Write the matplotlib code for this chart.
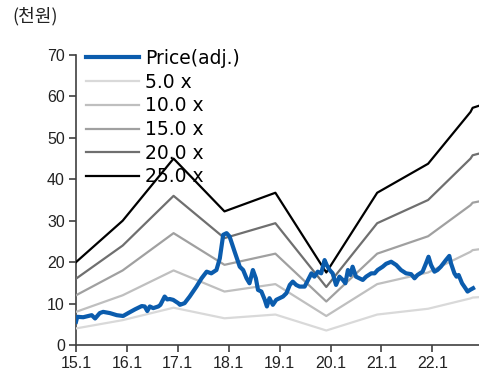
import matplotlib
matplotlib.use("Agg")
import matplotlib.pyplot as plt
import numpy as np

# ---- data ----
x_tick_labels = ["15.1", "16.1", "17.1", "18.1", "19.1", "20.1", "21.1", "22.1"]
x_tick_months = [0, 12, 24, 36, 48, 60, 72, 84]

per_multiples = [5.0, 10.0, 15.0, 20.0, 25.0]
per_labels = ["5.0 x", "10.0 x", "15.0 x", "20.0 x", "25.0 x"]
eps_month = [0, 11, 23, 35, 47, 59, 71, 83, 93, 93.5, 95]
eps_value = [0.80, 1.20, 1.80, 1.29, 1.47, 0.70, 1.47, 1.75, 2.25, 2.29, 2.31]

price_month = [0.0, 0.3, 1.7, 2.9, 3.7, 4.5, 5.6, 6.4, 8.0, 9.6, 11.1, 12.3, 13.9, 15.5,
               16.2, 16.8, 17.4, 18.2, 19.4, 19.9, 20.9, 21.5, 22.1, 22.9, 24.1, 24.5,
               25.6, 26.8, 28.4, 29.6, 30.8, 31.9, 33.1, 33.9, 34.7, 35.5, 36.2, 37.4,
               38.6, 39.4, 40.2, 40.9, 41.7, 42.4, 42.9, 43.7, 44.5, 45.0, 45.6, 46.4,
               47.2, 48.8, 49.6, 50.4, 51.1, 51.9, 52.7, 53.9, 54.7, 55.5, 56.2, 57.0,
               57.8, 58.6, 59.1, 59.8, 60.5, 61.3, 62.1, 62.9, 63.5, 64.1, 64.7, 65.2,
               66.0, 66.8, 67.6, 68.4, 69.6, 70.4, 71.1, 72.3, 73.1, 74.3, 75.5, 76.6,
               77.8, 79.0, 79.8, 80.5, 81.7, 82.5, 83.1, 83.7, 84.5, 85.2, 86.0, 87.2,
               88.0, 88.4, 89.2, 89.7, 90.2, 91.0, 91.8, 92.3, 92.9, 93.6]
price_value = [5.6, 6.8, 6.7, 7.0, 7.2, 6.4, 7.7, 8.0, 7.7, 7.2, 7.0, 7.7, 8.6, 9.4,
               9.3, 8.2, 9.3, 8.9, 9.3, 9.7, 11.7, 11.0, 11.1, 10.9, 10.1, 9.7,
               10.1, 11.7, 14.1, 16.1, 17.7, 17.3, 18.1, 20.9, 26.6, 27.0, 26.2, 22.5,
               18.9, 18.1, 16.1, 14.9, 18.1, 16.1, 13.3, 12.9, 10.9, 9.3, 11.3, 9.7,
               10.9, 11.7, 12.5, 14.5, 15.3, 14.5, 14.1, 14.1, 15.7, 17.3, 16.5, 17.7,
               17.3, 20.5, 19.3, 18.1, 17.3, 14.5, 16.5, 15.7, 14.9, 18.1, 16.9, 18.9,
               16.5, 16.1, 15.7, 16.5, 17.3, 17.3, 18.1, 18.9, 19.6, 20.1, 19.3, 18.1,
               17.3, 17.1, 16.1, 16.9, 17.7, 19.7, 21.3, 19.3, 17.7, 18.1, 18.9, 20.5,
               21.5, 19.7, 17.3, 16.5, 16.9, 14.9, 13.7, 12.9, 13.3, 13.7]

# ---- style ----
per_colors = ["#d9d9d9", "#bfbfbf", "#a0a0a0", "#6f6f6f", "#000000"]
price_color = "#0b5cad"

fig = plt.figure(figsize=(4.79, 3.83), dpi=100)
ax = fig.add_axes([76 / 479, 1 - 345 / 383, 1 - 76 / 479, (345 - 55) / 383])

eps_arr = np.array(eps_value)
handles = []
h_price, = ax.plot(price_month, price_value, color=price_color, lw=3.0,
                   solid_joinstyle="round", zorder=5, label="Price(adj.)")
handles.append(h_price)
for mult, lab, col in zip(per_multiples, per_labels, per_colors):
    h, = ax.plot(eps_month, eps_arr * mult, color=col, lw=1.6, zorder=3, label=lab)
    handles.append(h)

ax.set_xlim(0, 95)
ax.set_ylim(0, 70)
ax.set_yticks(range(0, 71, 10))
ax.set_xticks(x_tick_months)
ax.set_xticklabels(x_tick_labels)

for s in ["top", "right"]:
    ax.spines[s].set_visible(False)
for s in ["left", "bottom"]:
    ax.spines[s].set_color("#404040")
    ax.spines[s].set_linewidth(1.2)
ax.spines["bottom"].set_zorder(6)
ax.tick_params(axis="both", direction="out", length=5, width=1.2, color="#404040",
               labelsize=11.5, pad=3, labelcolor="#222222")
for lab in ax.get_xticklabels() + ax.get_yticklabels():
    lab.set_fontfamily("Liberation Sans")

leg = ax.legend(handles=handles, loc="upper left", bbox_to_anchor=(86 / 479, 1 - 49 / 383),
                bbox_transform=fig.transFigure, frameon=False, borderpad=0,
                borderaxespad=0, handlelength=2.8, handletextpad=0.33,
                labelspacing=0.25, prop={"family": "DejaVu Sans", "size": 13.5})
leg.set_zorder(10)

fig.text(12 / 479, 1 - 16 / 383, "(천원)", fontsize=13, va="center", ha="left",
         family=["Noto Sans CJK KR", "DejaVu Sans"], color="#222222")

fig.savefig("out.png", dpi=100)
